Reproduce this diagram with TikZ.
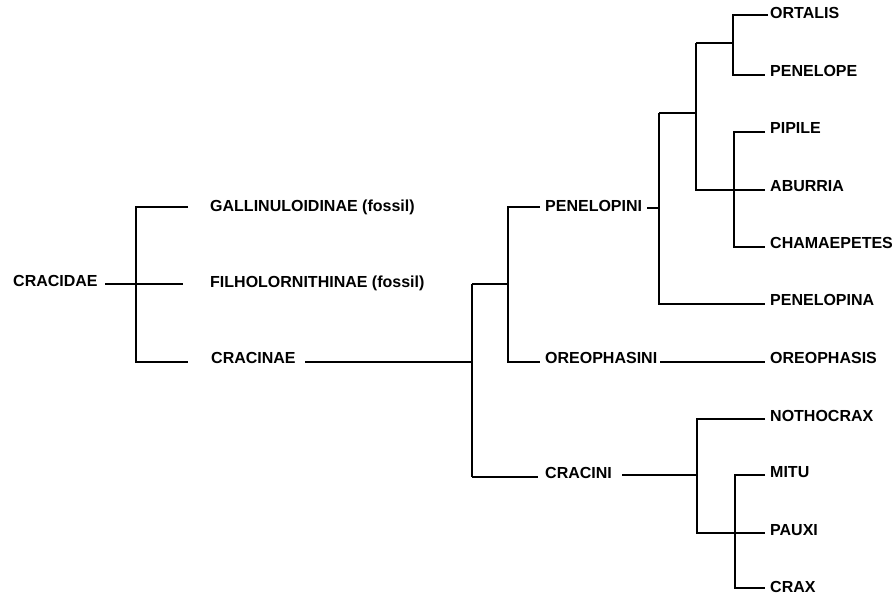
\documentclass[tikz,border=0pt]{standalone}
\usepackage{fontspec}
\setmainfont{Liberation Sans}
\begin{document}
\begin{tikzpicture}[x=1pt,y=-1pt,
  taxon/.style={anchor=base west,inner sep=0pt,font=\fontsize{16}{16}\selectfont\bfseries},
  branch/.style={line width=2.1pt,line cap=butt}]
\useasboundingbox (0,0) rectangle (895,598);

% ---- labels ----
\node[taxon] (cracidae)    at (13,286)  {CRACIDAE};
\node[taxon] (gallin)      at (210,211) {GALLINULOIDINAE (fossil)};
\node[taxon] (filhol)      at (210,287) {FILHOLORNITHINAE (fossil)};
\node[taxon] (cracinae)    at (211,363) {CRACINAE};
\node[taxon] (penelopini)  at (545,211) {PENELOPINI};
\node[taxon] (oreophasini) at (545,363) {OREOPHASINI};
\node[taxon] (cracini)     at (545,478) {CRACINI};
\node[taxon] (ortalis)     at (770,18)  {ORTALIS};
\node[taxon] (penelope)    at (770,76)  {PENELOPE};
\node[taxon] (pipile)      at (770,133) {PIPILE};
\node[taxon] (aburria)     at (770,191) {ABURRIA};
\node[taxon] (chamaepetes) at (770,248) {CHAMAEPETES};
\node[taxon] (penelopina)  at (770,305) {PENELOPINA};
\node[taxon] (oreophasis)  at (770,363) {OREOPHASIS};
\node[taxon] (nothocrax)   at (770,421) {NOTHOCRAX};
\node[taxon] (mitu)        at (770,477) {MITU};
\node[taxon] (pauxi)       at (770,535) {PAUXI};
\node[taxon] (crax)        at (770,592) {CRAX};

% ---- branch end points ----
% Cracidae
\coordinate (cdA) at (105,284);  \coordinate (cdB) at (183,284);
\coordinate (cdT) at (136,207);  \coordinate (cdM) at (136,362);
\coordinate (galE) at (188,207); \coordinate (crnE) at (188,362);
% Cracinae
\coordinate (crnA) at (305,362); \coordinate (crnB) at (472,362);
\coordinate (c1T) at (472,284);  \coordinate (c1B) at (472,477);
\coordinate (c2T) at (508,284);  \coordinate (p1T) at (508,207);
\coordinate (p1B) at (508,362);
\coordinate (penE) at (540,207); \coordinate (oreE) at (540,362);
\coordinate (criE) at (538,477);
% Penelopini
\coordinate (pnA) at (647,208);  \coordinate (pnB) at (659,208);
\coordinate (p2T) at (659,113);  \coordinate (p2B) at (659,304);
\coordinate (p3L) at (696,113);  \coordinate (p3T) at (696,43);
\coordinate (p3B) at (696,190);
\coordinate (p4L) at (733,43);   \coordinate (p4T) at (733,15);
\coordinate (p4B) at (733,75);
\coordinate (p5T) at (734,132);  \coordinate (p5B) at (734,247);
\coordinate (ortE) at (768,15);  \coordinate (pneE) at (765,75);
\coordinate (pipE) at (765,132); \coordinate (abuE) at (765,190);
\coordinate (chaE) at (765,247); \coordinate (pnaE) at (765,304);
% Oreophasini
\coordinate (orA) at (660,362);  \coordinate (orE) at (765,362);
% Cracini
\coordinate (ciA) at (622,475);  \coordinate (ciB) at (697,475);
\coordinate (k1T) at (697,419);  \coordinate (k1B) at (697,533);
\coordinate (k2T) at (735,475);  \coordinate (k2B) at (735,588);
\coordinate (notE) at (765,419); \coordinate (pauE) at (765,533);
\coordinate (mitE) at (765,475); \coordinate (crxE) at (765,588);

% ---- branches ----
\draw[branch] (cdA) -- (cdB);
\draw[branch] (galE) -- (cdT) -- (cdM) -- (crnE);
\draw[branch] (crnA) -- (crnB);
\draw[branch] (c1T) -- (c1B);
\draw[branch] (c1T) -- (c2T);
\draw[branch] (penE) -- (p1T) -- (p1B) -- (oreE);
\draw[branch] (c1B) -- (criE);
\draw[branch] (pnA) -- (pnB);
\draw[branch] (p2T) -- (p2B) -- (pnaE);
\draw[branch] (p2T) -- (p3L);
\draw[branch] (p3T) -- (p3B) -- (abuE);
\draw[branch] (p3T) -- (p4L);
\draw[branch] (ortE) -- (p4T) -- (p4B) -- (pneE);
\draw[branch] (pipE) -- (p5T) -- (p5B) -- (chaE);
\draw[branch] (orA) -- (orE);
\draw[branch] (ciA) -- (ciB);
\draw[branch] (notE) -- (k1T) -- (k1B) -- (pauE);
\draw[branch] (mitE) -- (k2T) -- (k2B) -- (crxE);
\end{tikzpicture}
\end{document}
